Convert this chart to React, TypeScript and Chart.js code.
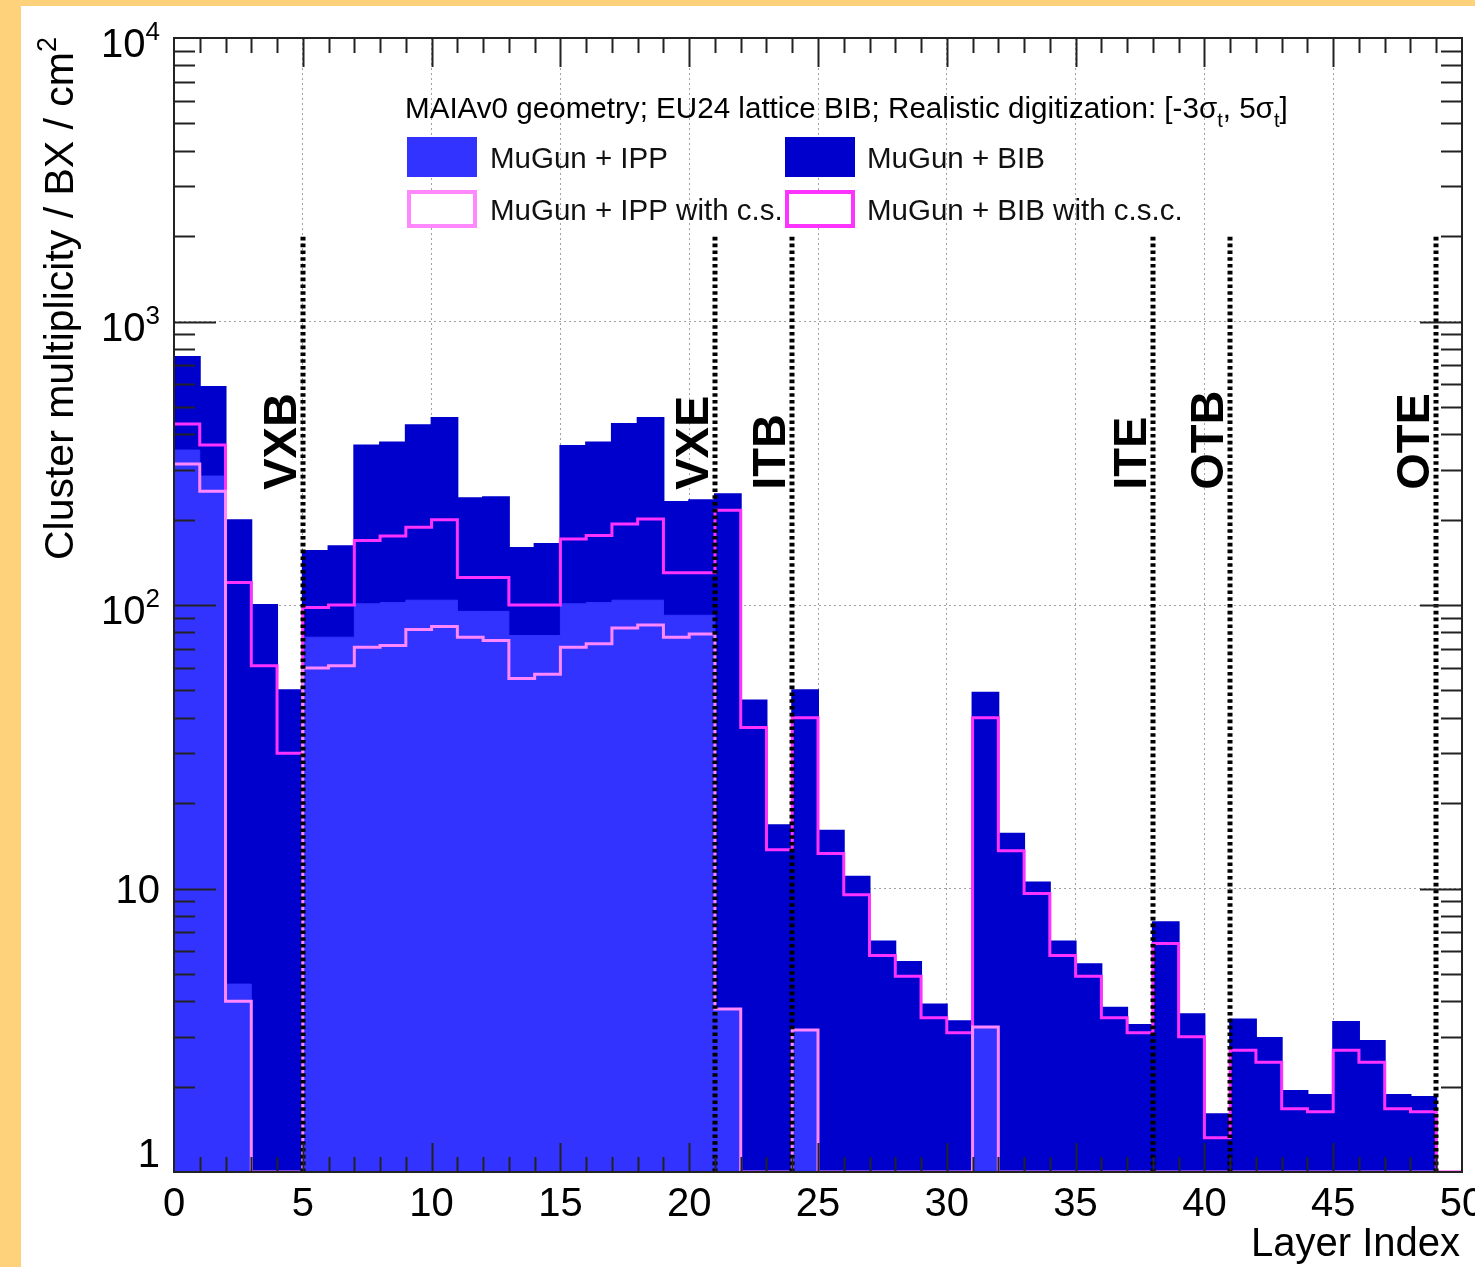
import React, { useEffect, useRef } from "react";
import { Chart, registerables } from "chart.js";

Chart.register(...registerables);

// ---------------- data ----------------
const BIN_LOW_EDGES = [
  0, 1, 2, 3, 4, 5, 6, 7, 8, 9, 10, 11, 12, 13, 14, 15, 16, 17, 18, 19, 20, 21, 22, 23, 24,
  25, 26, 27, 28, 29, 30, 31, 32, 33, 34, 35, 36, 37, 38, 39, 40, 41, 42, 43, 44, 45, 46, 47, 48, 49,
];
const X_MIN = 0;
const X_MAX = 50;
const X_LABEL_VALUES = [0, 5, 10, 15, 20, 25, 30, 35, 40, 45, 50];
const X_TICK_LABELS = ["0", "5", "10", "15", "20", "25", "30", "35", "40", "45", "50"];
const Y_MIN = 1;
const Y_MAX = 10000;
const Y_DECADES = [1, 10, 100, 1000, 10000];
const Y_MULTIPLES = [1, 2, 3, 4, 5, 6, 7, 8, 9];

// MuGun + IPP (filled)
const IPP = [
  352, 285, 4.6, 0, 0, 77, 77, 101, 102, 104,
  104, 95, 95, 78, 78, 101, 102, 104, 104, 92,
  92, 3.76, 0, 0, 3.17, 0, 0, 0, 0, 0,
  0, 3.25, 0, 0, 0, 0, 0, 0, 0, 0,
  0, 0, 0, 0, 0, 0, 0, 0, 0, 0,
];
// MuGun + BIB (filled)
const BIB = [
  750, 587, 199, 100, 50, 155, 161, 365, 374, 431,
  457, 238, 240, 159, 164, 364, 374, 435, 457, 231,
  234, 246, 46, 16.7, 50, 16, 11, 6.5, 5.5, 3.9,
  3.4, 49, 15.6, 10.5, 6.5, 5.4, 3.8, 3.3, 7.6, 3.6,
  1.6, 3.45, 2.97, 1.93, 1.87, 3.38, 2.9, 1.87, 1.84, 0,
];
// MuGun + IPP with c.s. (outline)
const IPP_CS = [
  314, 252, 4.0, 0, 0, 60, 61, 71, 72, 82,
  84, 77, 75, 55, 57, 71, 73, 83, 85, 77,
  79, 3.76, 0, 0, 3.17, 0, 0, 0, 0, 0,
  0, 3.25, 0, 0, 0, 0, 0, 0, 0, 0,
  0, 0, 0, 0, 0, 0, 0, 0, 0, 0,
];
// MuGun + BIB with c.s.c. (outline)
const BIB_CSC = [
  435, 367, 120, 61, 30, 98, 100, 169, 175, 188,
  200, 125, 125, 100, 100, 171, 176, 193, 201, 130,
  130, 216, 37, 13.7, 40, 13.3, 9.5, 5.8, 4.9, 3.5,
  3.1, 40, 13.6, 9.6, 5.8, 4.9, 3.5, 3.1, 6.4, 3.0,
  1.32, 2.69, 2.44, 1.67, 1.63, 2.69, 2.44, 1.67, 1.63, 0,
];

const BOUNDARY_X = [5, 21, 24, 38, 41, 49];
const BOUNDARY_LABELS = ["VXB", "VXE", "ITB", "ITE", "OTB", "OTE"];
const BOUNDARY_TOP = 2000;
const BOUNDARY_LABEL_Y = 255;

const SERIES_NAMES = [
  "MuGun + IPP",
  "MuGun + BIB",
  "MuGun + IPP with c.s.",
  "MuGun + BIB with c.s.c.",
];
const LEGEND_HEADER_PARTS = [
  { text: "MAIAv0 geometry; EU24 lattice BIB; Realistic digitization: [-3σ" },
  { text: "t", sub: true },
  { text: ", 5σ" },
  { text: "t", sub: true },
  { text: "]" },
];
const Y_TITLE_PARTS = [{ text: "Cluster multiplicity / BX / cm" }, { text: "2", sup: true }];
const X_TITLE = "Layer Index";

// ---------------- styles ----------------
const FONT = '"Liberation Sans", Arial, Helvetica, sans-serif';
const ORANGE = "#fdd27a";
const C_IPP = "#3333ff";
const C_BIB = "#0000cc";
const C_IPP_CS = "#ff88ff";
const C_BIB_CSC = "#ff33ff";
const GRID = "#a0a0a0";
const AXIS = "#222222";

function toSteps(values: number[]) {
  const pts = BIN_LOW_EDGES.map((x, i) => ({ x, y: Math.max(values[i], Y_MIN) }));
  pts.push({ x: X_MAX, y: Math.max(values[values.length - 1], Y_MIN) });
  return pts;
}

type Part = { text: string; sub?: boolean; sup?: boolean };

function richWidth(ctx: CanvasRenderingContext2D, parts: Part[], size: number, weight = "") {
  let w = 0;
  for (const p of parts) {
    const s = p.sub || p.sup ? Math.round(size * 0.66) : size;
    ctx.font = `${weight}${s}px ${FONT}`;
    w += ctx.measureText(p.text).width;
  }
  return w;
}

function drawRich(ctx: CanvasRenderingContext2D, parts: Part[], x: number, y: number, size: number, weight = "") {
  let cx = x;
  for (const p of parts) {
    const s = p.sub || p.sup ? Math.round(size * 0.66) : size;
    ctx.font = `${weight}${s}px ${FONT}`;
    const dy = p.sub ? size * 0.3 : p.sup ? -size * 0.42 : 0;
    ctx.fillText(p.text, cx, y + dy);
    cx += ctx.measureText(p.text).width;
  }
  return cx - x;
}

const decorPlugin = {
  id: "rootDecor",
  afterDatasetsDraw(chart: any) {
    const ctx: CanvasRenderingContext2D = chart.ctx;
    const { left: L, right: R, top: T, bottom: B } = chart.chartArea;
    const xs = chart.scales.x;
    const ys = chart.scales.y;
    ctx.save();

    // boundary dotted lines
    ctx.strokeStyle = "#000";
    ctx.lineWidth = 5;
    ctx.setLineDash([3.6, 3.2]);
    BOUNDARY_X.forEach((b) => {
      const px = Math.round(xs.getPixelForValue(b));
      ctx.beginPath();
      ctx.moveTo(px, ys.getPixelForValue(Y_MIN));
      ctx.lineTo(px, ys.getPixelForValue(BOUNDARY_TOP));
      ctx.stroke();
    });
    ctx.setLineDash([]);

    // boundary labels
    ctx.fillStyle = "#000";
    ctx.font = `bold 47px ${FONT}`;
    ctx.textAlign = "left";
    ctx.textBaseline = "alphabetic";
    BOUNDARY_X.forEach((b, i) => {
      const px = xs.getPixelForValue(b);
      const py = ys.getPixelForValue(BOUNDARY_LABEL_Y);
      ctx.save();
      ctx.translate(px - 7, py);
      ctx.rotate(-Math.PI / 2);
      ctx.fillText(BOUNDARY_LABELS[i], 0, 0);
      ctx.restore();
    });

    // frame
    ctx.strokeStyle = AXIS;
    ctx.lineWidth = 2;
    ctx.strokeRect(L, T, R - L, B - T);

    // x ticks (inside, bottom & top)
    ctx.beginPath();
    xs.ticks.forEach((t: any) => {
      const v = t.value;
      if (v <= X_MIN || v >= X_MAX) return;
      const px = Math.round(xs.getPixelForValue(v)) + 0.5;
      const len = v % 5 === 0 ? 29 : 15;
      ctx.moveTo(px, B);
      ctx.lineTo(px, B - len);
      ctx.moveTo(px, T);
      ctx.lineTo(px, T + len);
    });
    // y ticks (inside, left & right)
    ys.ticks.forEach((t: any) => {
      const v = t.value;
      if (v <= Y_MIN || v >= Y_MAX) return;
      const py = Math.round(ys.getPixelForValue(v)) + 0.5;
      const major = Y_DECADES.includes(v);
      const len = major ? 42 : 21;
      ctx.moveTo(L, py);
      ctx.lineTo(L + len, py);
      ctx.moveTo(R, py);
      ctx.lineTo(R - len, py);
    });
    ctx.stroke();

    // x tick labels
    ctx.fillStyle = "#000";
    ctx.font = `40px ${FONT}`;
    ctx.textAlign = "center";
    X_LABEL_VALUES.forEach((v, i) => {
      ctx.fillText(X_TICK_LABELS[i], xs.getPixelForValue(v), B + 44);
    });

    // y tick labels
    ctx.textAlign = "left";
    const rightX = L - 14;
    Y_DECADES.forEach((d) => {
      const py = ys.getPixelForValue(d);
      const e = Math.round(Math.log10(d));
      let parts: Part[];
      let base: number;
      if (e === 0) {
        parts = [{ text: "1" }];
        base = py - 5;
      } else if (e === 1) {
        parts = [{ text: "10" }];
        base = py + 14;
      } else {
        parts = [{ text: "10" }, { text: String(e), sup: true }];
        base = py + 19;
      }
      const w = richWidth(ctx, parts, 40);
      drawRich(ctx, parts, rightX - w, base, 40);
    });

    // x title
    ctx.font = `40px ${FONT}`;
    ctx.textAlign = "right";
    ctx.fillText(X_TITLE, R - 2, B + 84);

    // y title (rotated, aligned to top end)
    ctx.textAlign = "left";
    const tw = richWidth(ctx, Y_TITLE_PARTS, 41);
    ctx.save();
    ctx.translate(L - 101, T - 1 + tw);
    ctx.rotate(-Math.PI / 2);
    drawRich(ctx, Y_TITLE_PARTS, 0, 0, 41);
    ctx.restore();

    // legend
    ctx.textAlign = "left";
    drawRich(ctx, LEGEND_HEADER_PARTS, L + 231, T + 80, 29.6);
    const cols = [L + 233, L + 611];
    const textCols = [L + 316, L + 693];
    const rowsBox = [T + 99, T + 152];
    const rowsText = [T + 130, T + 182];
    const styles = [
      { fill: C_IPP, stroke: null },
      { fill: C_BIB, stroke: null },
      { fill: null, stroke: C_IPP_CS },
      { fill: null, stroke: C_BIB_CSC },
    ];
    SERIES_NAMES.forEach((name, i) => {
      const col = i % 2;
      const row = Math.floor(i / 2);
      const bx = cols[col];
      const by = rowsBox[row];
      const st = styles[i];
      if (st.fill) {
        ctx.fillStyle = st.fill;
        ctx.fillRect(bx, by, 70, 40);
      } else if (st.stroke) {
        ctx.fillStyle = "#fff";
        ctx.fillRect(bx, by, 70, 38);
        ctx.strokeStyle = st.stroke;
        ctx.lineWidth = 4;
        ctx.strokeRect(bx + 2, by + 2, 66, 34);
      }
      ctx.fillStyle = "#111";
      ctx.font = `29.5px ${FONT}`;
      ctx.fillText(name, textCols[col], rowsText[row]);
    });

    ctx.restore();
  },
};

export default function App() {
  const ref = useRef<HTMLCanvasElement>(null);

  useEffect(() => {
    const canvas = ref.current;
    if (!canvas) return;
    const xEdges = BIN_LOW_EDGES.concat([X_MAX]);
    const yTicks = Y_DECADES.flatMap((d) => Y_MULTIPLES.map((m) => m * d)).filter((v) => v <= Y_MAX);

    const chart = new Chart(canvas, {
      type: "line",
      data: {
        datasets: [
          {
            label: SERIES_NAMES[3],
            data: toSteps(BIB_CSC),
            stepped: true,
            borderColor: C_BIB_CSC,
            borderWidth: 3,
            fill: false,
            pointRadius: 0,
            order: 1,
          },
          {
            label: SERIES_NAMES[2],
            data: toSteps(IPP_CS),
            stepped: true,
            borderColor: C_IPP_CS,
            borderWidth: 3,
            fill: false,
            pointRadius: 0,
            order: 0,
          },
          {
            label: SERIES_NAMES[0],
            data: toSteps(IPP),
            stepped: true,
            borderColor: C_IPP,
            backgroundColor: C_IPP,
            borderWidth: 1,
            fill: "start",
            pointRadius: 0,
            order: 2,
          },
          {
            label: SERIES_NAMES[1],
            data: toSteps(BIB),
            stepped: true,
            borderColor: C_BIB,
            backgroundColor: C_BIB,
            borderWidth: 2,
            fill: "start",
            pointRadius: 0,
            order: 3,
          },
        ] as any,
      },
      options: {
        animation: false,
        responsive: false,
        devicePixelRatio: 1,
        layout: { padding: { top: 32, right: 13, left: 0, bottom: 0 } },
        plugins: {
          legend: { display: false },
          tooltip: { enabled: false },
        },
        elements: { point: { radius: 0 }, line: { tension: 0 } },
        scales: {
          x: {
            type: "linear",
            min: X_MIN,
            max: X_MAX,
            afterBuildTicks: (s: any) => {
              s.ticks = xEdges.map((v) => ({ value: v }));
            },
            ticks: { display: false },
            grid: {
              drawTicks: false,
              lineWidth: 1,
              color: (c: any) => {
                const v = c.tick ? c.tick.value : -1;
                return v % 5 === 0 && v > X_MIN && v < X_MAX ? GRID : "rgba(0,0,0,0)";
              },
            },
            border: { display: false, dash: [2, 3] },
            afterFit: (s: any) => {
              s.height = 95;
            },
          },
          y: {
            type: "logarithmic",
            min: Y_MIN,
            max: Y_MAX,
            afterBuildTicks: (s: any) => {
              s.ticks = yTicks.map((v) => ({ value: v, major: Y_DECADES.includes(v) }));
            },
            ticks: { display: false },
            grid: {
              drawTicks: false,
              lineWidth: 1,
              color: (c: any) => {
                const v = c.tick ? c.tick.value : -1;
                return Y_DECADES.includes(v) && v > Y_MIN && v < Y_MAX ? GRID : "rgba(0,0,0,0)";
              },
            },
            border: { display: false, dash: [2, 3] },
            afterFit: (s: any) => {
              s.width = 153;
            },
          },
        },
      } as any,
      plugins: [decorPlugin],
    });
    return () => chart.destroy();
  }, []);

  return (
    <div
      style={{
        position: "absolute",
        left: 0,
        top: 0,
        width: 1475,
        height: 1267,
        background: ORANGE,
        overflow: "hidden",
      }}
    >
      <div
        style={{
          position: "absolute",
          left: 21,
          top: 6,
          width: 1454,
          height: 1261,
          background: "#ffffff",
        }}
      >
        <canvas ref={ref} width={1454} height={1261} style={{ display: "block", width: 1454, height: 1261 }} />
      </div>
    </div>
  );
}
